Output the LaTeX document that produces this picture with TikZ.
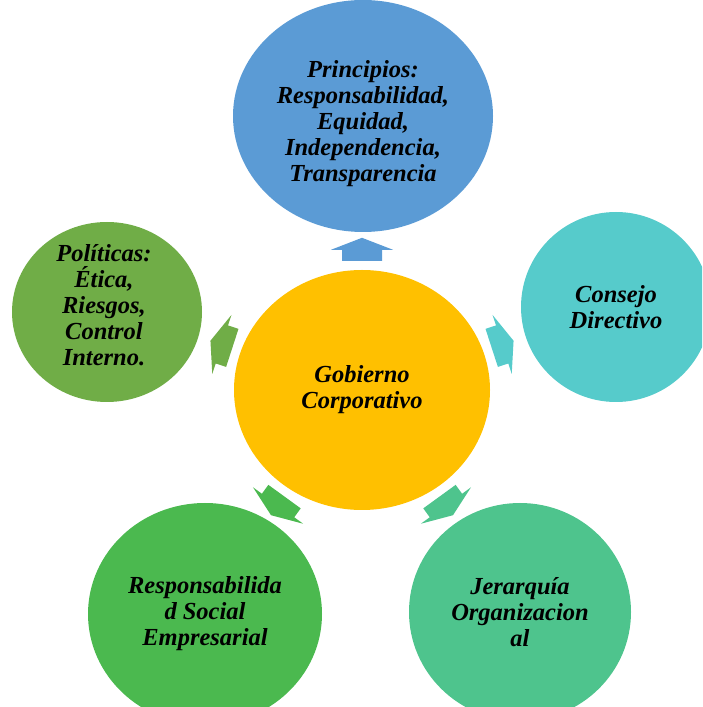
\documentclass[tikz,border=0pt]{standalone}
\usepackage{fontspec}
\setmainfont{Liberation Serif}
\usetikzlibrary{shapes.geometric}

\definecolor{azul}{HTML}{5B9BD5}
\definecolor{oro}{HTML}{FFC000}
\definecolor{turquesa}{HTML}{56CBCB}
\definecolor{verdeol}{HTML}{70AD47}
\definecolor{verde}{HTML}{4BB94F}
\definecolor{verdeag}{HTML}{4EC48D}

\tikzset{
  texto/.style={inner sep=0pt, align=center,
    font=\fontsize{24.5}{26}\selectfont\bfseries\itshape},
  bloque/.style={ellipse, texto},
}

\begin{document}
\begin{tikzpicture}[x=1pt,y=1pt]
\useasboundingbox (0,0) rectangle (702,707);
\clip (0,0) rectangle (702,707);

\node[bloque, fill=oro, minimum width=256pt, minimum height=240pt] (gob) at (362,317) {Gobierno\\Corporativo};
\node[bloque, fill=azul, minimum width=260pt, minimum height=232pt] (prin) at (363,591) {};
\node[texto] (printxt) at ([yshift=-8pt]prin.center) {Principios:\\Responsabilidad,\\Equidad,\\Independencia,\\Transparencia};
\node[bloque, fill=turquesa, minimum width=190pt, minimum height=190pt] (cons) at (616,400) {Consejo\\Directivo};
\node[bloque, fill=verdeag, minimum width=222pt, minimum height=218pt] (jer) at (520,95) {Jerarquía\\Organizacion\\al};
\node[bloque, fill=verde, minimum width=234pt, minimum height=222pt] (resp) at (205,93) {Responsabilida\\d Social\\Empresarial};
\node[bloque, fill=verdeol, minimum width=190pt, minimum height=180pt] (pol) at (107,395) {};
\node[texto] (poltxt) at ([xshift=-3pt,yshift=7pt]pol.center) {Políticas:\\Ética,\\Riesgos,\\Control\\Interno.};

\foreach \ang/\col in {90/azul, 18/turquesa, 306/verdeag, 234/verde, 162/verdeol}
  \fill[\col, shift={(gob.\ang)}, rotate=\ang] (9,-20) -- (20,-20) -- (20,-31) -- (32,0) -- (20,31) -- (20,20) -- (9,20) -- cycle;
\end{tikzpicture}
\end{document}
